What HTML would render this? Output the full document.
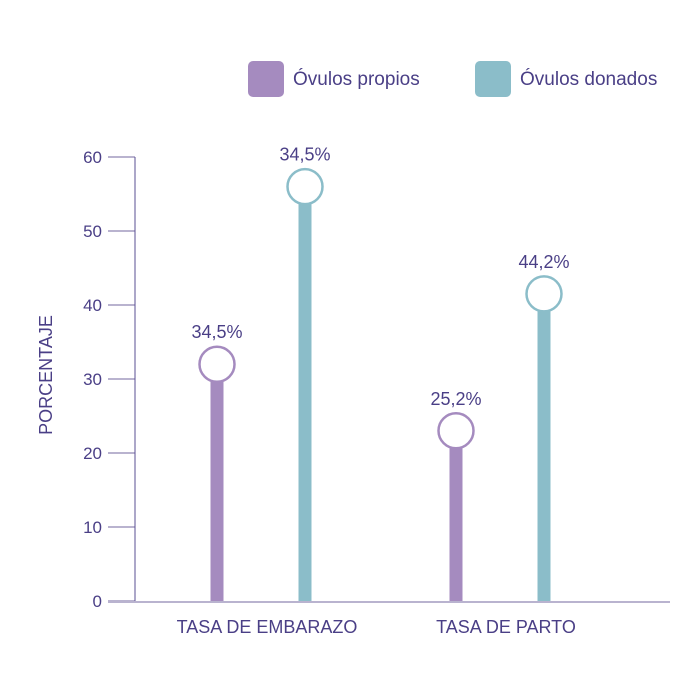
<!DOCTYPE html>
<html><head><meta charset="utf-8"><style>
body{margin:0;background:#fff}
svg{display:block;font-family:"Liberation Sans",sans-serif}
</style></head><body>
<svg id="c" width="700" height="700">
<g>
<rect x="248" y="61" width="36" height="36" rx="5" fill="#a58bbf"/>
<text x="293" y="85" font-size="19" fill="#4a3f86">Óvulos propios</text>
<rect x="475" y="61" width="36" height="36" rx="5" fill="#8bbdc9"/>
<text x="520" y="85" font-size="19" fill="#4a3f86">Óvulos donados</text>
</g>
<text transform="translate(52,375) rotate(-90)" text-anchor="middle" font-size="18" fill="#4a3f86">PORCENTAJE</text>
</svg>
<script>
const categories=["TASA DE EMBARAZO","TASA DE PARTO"];
const propios=[32,23];
const donados=[56,41.5];
const propiosLabels=["34,5%","25,2%"];
const donadosLabels=["34,5%","44,2%"];
const yTicks=[0,10,20,30,40,50,60];
const svg=document.getElementById('c');
const NS="http://www.w3.org/2000/svg";
const y=v=>601-v*7.4;
const catX=[261,500];
function mk(t,a,txt){const e=document.createElementNS(NS,t);for(const k in a)e.setAttribute(k,a[k]);if(txt!==undefined)e.textContent=txt;svg.appendChild(e);return e;}
yTicks.forEach(t=>{
 const l=mk('line',{x1:108,x2:135,y1:y(t),y2:y(t),stroke:'#b9b3cf','stroke-width':2});
 
 
 const tx=mk('text',{x:102,y:y(t)+6,'text-anchor':'end','font-size':17,fill:'#4a3f86'},String(t));
 
 
});
const ax=mk('line',{x1:135,x2:135,y1:y(60),y2:y(0),stroke:'#5a4f93','stroke-width':1});


const bl=mk('line',{x1:108,x2:670,y1:y(0)+1,y2:y(0)+1,stroke:'#b9b3cf','stroke-width':2});


function series(vals,labels,dx,color,name){
 vals.forEach((v,i)=>{
  const cx=catX[i]+dx;
  const b=mk('rect',{x:cx-6.5,y:y(v),width:13,height:y(0)-y(v),fill:color});
  
  
  const c=mk('circle',{cx:cx,cy:y(v),r:17.5,fill:'#fff',stroke:color,'stroke-width':2.5});
  
  
  const t=mk('text',{x:cx,y:y(v)-26,'text-anchor':'middle','font-size':18,fill:'#4a3f86'},labels[i]);
  
  
 });
}
series(propios,propiosLabels,-44,'#a58bbf','propios');
series(donados,donadosLabels,44,'#8bbdc9','donados');
categories.forEach((c,i)=>{
 const t=mk('text',{x:catX[i]+6,y:633,'text-anchor':'middle','font-size':18,fill:'#4a3f86'},c);
 
 
});
</script>
</body></html>
